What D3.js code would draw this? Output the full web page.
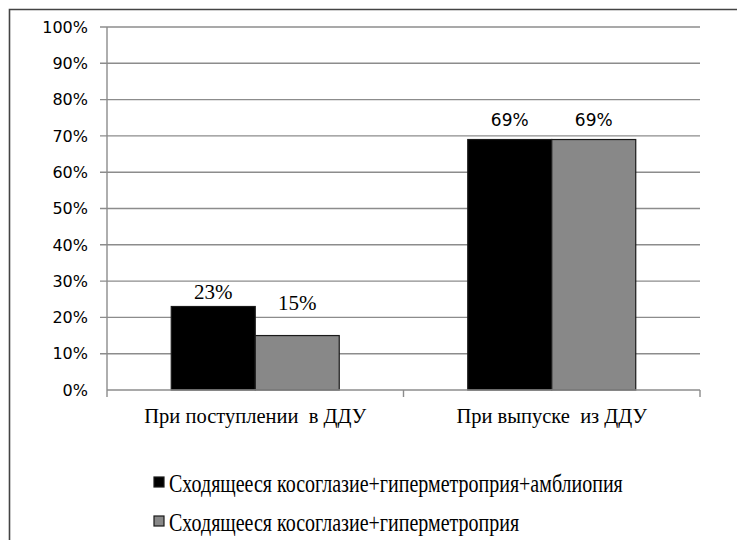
<!DOCTYPE html>
<meta charset="utf-8">
<style>
body { margin: 0; background: #fff; }
.grid line { stroke: #8c8c8c; stroke-width: 1.4px; }
.axis path, .axis line { stroke: #8c8c8c; stroke-width: 1.4px; }
.ylab { font: 16px "DejaVu Sans", sans-serif; fill: #000; }
.serif { font-family: "Liberation Serif", "Times New Roman", serif; fill: #000; }
</style>
<svg width="737" height="540"></svg>
<script src="https://cdn.jsdelivr.net/npm/d3@7"></script>
<script>

var categories = ["При поступлении  в ДДУ", "При выпуске  из ДДУ"];
var series = ["Сходящееся косоглазие+гиперметроприя+амблиопия", "Сходящееся косоглазие+гиперметроприя"];
var values = [[0.23, 0.69], [0.15, 0.69]];
var yTicks = [0, 0.1, 0.2, 0.3, 0.4, 0.5, 0.6, 0.7, 0.8, 0.9, 1];
var colors = ["#000000", "#888888"];

var svg = d3.select("svg");

// frame
svg.append("path")
    .attr("d", "M9.5,545 V9.5 H740")
    .attr("fill", "none")
    .attr("stroke", "#444")
    .attr("stroke-width", 1.6);

var y = d3.scaleLinear().domain([0, 1]).range([390, 27]);
var x0 = d3.scaleBand().domain(categories).range([107, 700]);
var x1 = d3.scaleBand().domain(series).range([0, x0.bandwidth()]).paddingOuter(0.765);

// gridlines + y ticks
var grid = svg.append("g").attr("class", "grid");
grid.selectAll("line")
    .data(yTicks.slice(1))
  .enter().append("line")
    .attr("x1", 100).attr("x2", 700)
    .attr("y1", function(d) { return y(d); })
    .attr("y2", function(d) { return y(d); });

svg.selectAll(".ylab")
    .data(yTicks)
  .enter().append("text")
    .attr("class", "ylab")
    .attr("x", 88)
    .attr("y", function(d) { return y(d); })
    .attr("dy", "0.36em")
    .attr("text-anchor", "end")
    .text(function(d) { return d3.format(".0%")(d); });

// y axis line
svg.append("line")
    .attr("x1", 107).attr("x2", 107).attr("y1", y(1)).attr("y2", y(0))
    .attr("stroke", "#8c8c8c").attr("stroke-width", 1.4);

// bars
var groups = svg.selectAll(".grp")
    .data(categories)
  .enter().append("g")
    .attr("transform", function(d) { return "translate(" + x0(d) + ",0)"; });

groups.selectAll("rect")
    .data(function(c, ci) { return series.map(function(s, si) { return {s: s, si: si, v: values[si][ci]}; }); })
  .enter().append("rect")
    .attr("x", function(d) { return x1(d.s); })
    .attr("width", x1.bandwidth())
    .attr("y", function(d) { return y(d.v); })
    .attr("height", function(d) { return y(0) - y(d.v); })
    .attr("fill", function(d) { return colors[d.si]; })
    .attr("stroke", "#1a1a1a")
    .attr("stroke-width", 1.2);

// value labels
groups.each(function(c, ci) {
  var g = d3.select(this);
  series.forEach(function(s, si) {
    var v = values[si][ci];
    var lift = ci === 1 ? 14 : (si === 1 ? 26 : 8);
    g.append("text")
        .attr("class", ci === 0 ? "serif" : "ylab")
        .style("font-size", ci === 0 ? "21px" : "17px")
        .attr("x", x1(s) + x1.bandwidth() / 2)
        .attr("y", y(v) - lift)
        .attr("text-anchor", "middle")
        .text(d3.format(".0%")(v));
  });
});

// x axis
svg.append("g")
    .attr("class", "axis")
    .attr("transform", "translate(0," + y(0) + ")")
    .call(d3.axisBottom(x0).tickSize(0).tickFormat(""))
  .select(".domain")
    .attr("d", "M107,0H700");

svg.select(".axis").selectAll(".bd")
    .data([107, x0(categories[1]), 700])
  .enter().append("line")
    .attr("x1", function(d) { return d; }).attr("x2", function(d) { return d; })
    .attr("y1", 0).attr("y2", 7);

svg.selectAll(".cat")
    .data(categories)
  .enter().append("text")
    .attr("class", "serif")
    .style("font-size", "20.5px")
    .style("white-space", "pre")
    .attr("x", function(d) { return x0(d) + x0.bandwidth() / 2; })
    .attr("y", 423)
    .attr("text-anchor", "middle")
    .text(function(d) { return d; });

// legend
var leg = svg.selectAll(".leg")
    .data(series)
  .enter().append("g")
    .attr("transform", function(d, i) { return "translate(154," + (477 + i * 39) + ")"; });

leg.append("rect")
    .attr("width", 10).attr("height", 10)
    .attr("fill", function(d, i) { return colors[i]; })
    .attr("stroke", "#1a1a1a")
    .attr("stroke-width", 1.2);

leg.append("text")
    .attr("class", "serif")
    .style("font-size", "20px")
    .attr("transform", "translate(15,15) scale(1,1.25)")
    .text(function(d) { return d; });

</script>
